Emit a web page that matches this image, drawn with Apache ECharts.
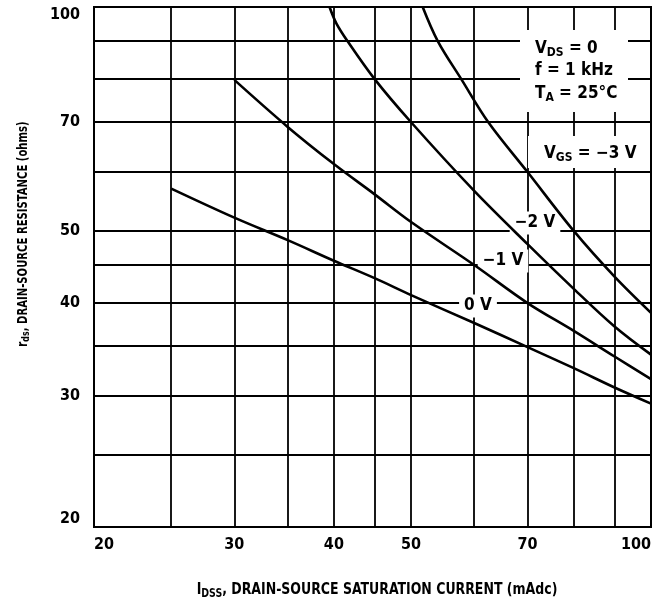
<!DOCTYPE html>
<html>
<head>
<meta charset="utf-8">
<script src="https://cdn.jsdelivr.net/npm/echarts@6/dist/echarts.min.js"></script>
<style>
  html, body { margin: 0; padding: 0; background: #fff; }
  #chart { width: 665px; height: 604px; }
</style>
</head>
<body>
<div id="chart"></div>
<script>
// ---- data ----
const xTickLabels = [20, 30, 40, 50, 70, 100];
const yTickLabels = [20, 30, 40, 50, 70, 100];
const xGridValues = [25, 30, 35, 40, 45, 50, 60, 70, 80, 90];
const yGridValues = [25, 30, 35, 40, 45, 50, 60, 70, 80, 90];

// V_GS = 0 V
const idss0V = [25, 30, 35, 40, 45, 50, 60, 70, 80, 90, 100];
const rds0V  = [57.0, 52.1, 48.6, 45.6, 43.2, 41.0, 37.6, 34.9, 32.7, 30.8, 29.3];
// V_GS = -1 V
const idssM1V = [30, 35, 40, 45, 50, 60, 70, 80, 90, 100];
const rdsM1V  = [79.8, 69.0, 61.5, 56.0, 51.4, 45.0, 40.0, 36.7, 33.9, 31.6];
// V_GS = -2 V
const idssM2V = [39.5, 40.3, 41.6, 45, 50, 60, 70, 80, 90, 100];
const rdsM2V  = [100, 95, 90, 80, 70, 56.6, 48.0, 41.8, 37.2, 34.1];
// V_GS = -3 V
const idssM3V = [51.7, 54, 57.8, 62.5, 70, 80, 90, 100];
const rdsM3V  = [100, 90, 80, 70, 60, 50, 43.4, 38.8];

const FONT = '"Liberation Sans Narrow", "DejaVu Sans Condensed", "Arial Narrow", sans-serif';

function zip(xs, ys) { return xs.map((x, i) => [x, ys[i]]); }

function curve(name, xs, ys) {
  return {
    name: name, type: 'line', smooth: 0.35, symbol: 'none', z: 3,
    data: zip(xs, ys),
    lineStyle: { color: '#000', width: 2.6 },
    silent: true, animation: false
  };
}

const gridLineSeries = {
  name: 'grid', type: 'line', data: [], z: 1, silent: true, animation: false,
  markLine: {
    z: 1, silent: true, animation: false, symbol: ['none', 'none'],
    label: { show: false },
    lineStyle: { color: '#000', width: 1.8, type: 'solid' },
    emphasis: { disabled: true },
    data: xGridValues.map(v => ({ xAxis: v })).concat(yGridValues.map(v => ({ yAxis: v })))
  }
};

const chart = echarts.init(document.getElementById('chart'), null, { renderer: 'canvas' });

const labelStyle = { fill: '#000', fontFamily: FONT, fontWeight: 'bold', fontSize: 17 };

function boxText(text, x, y) {
  return {
    type: 'text', x: x, y: y, z: 2, silent: true,
    style: Object.assign({
      text: text, align: 'center', verticalAlign: 'middle',
      backgroundColor: '#fff', padding: [3, 5, 3, 5]
    }, labelStyle)
  };
}

const subRich = {
  s: { fontFamily: FONT, fontWeight: 'bold', fontSize: 12, padding: [7, 0, 0, 0], fill: '#000' }
};

const option = {
  backgroundColor: '#fff',
  animation: false,
  grid: {
    left: 94, right: 14, top: 7, bottom: 77,
    show: true, borderColor: '#000', borderWidth: 2, backgroundColor: 'transparent'
  },
  xAxis: {
    type: 'log', logBase: 10, min: 20, max: 100,
    axisLine: { show: true, lineStyle: { color: '#000', width: 2 } },
    axisTick: { show: false },
    splitLine: { show: false },
    axisLabel: {
      customValues: xTickLabels,
      color: '#000', fontFamily: FONT, fontWeight: 'bold', fontSize: 16, margin: 10,
      alignMinLabel: 'left', alignMaxLabel: 'right',
      formatter: v => String(Math.round(v))
    }
  },
  yAxis: {
    type: 'log', logBase: 10, min: 20, max: 100,
    axisLine: { show: true, lineStyle: { color: '#000', width: 2 } },
    axisTick: { show: false },
    splitLine: { show: false },
    axisLabel: {
      customValues: yTickLabels,
      color: '#000', fontFamily: FONT, fontWeight: 'bold', fontSize: 16, margin: 14,
      verticalAlignMinLabel: 'bottom', verticalAlignMaxLabel: 'top',
      formatter: v => String(Math.round(v))
    }
  },
  series: [
    gridLineSeries,
    curve('0 V', idss0V, rds0V),
    curve('-1 V', idssM1V, rdsM1V),
    curve('-2 V', idssM2V, rdsM2V),
    curve('-3 V', idssM3V, rdsM3V)
  ],
  graphic: [
    // condition box
    { type: 'rect', z: 2, silent: true, shape: { x: 520, y: 30, width: 108, height: 82 }, style: { fill: '#fff' } },
    { type: 'text', z: 4, x: 535, y: 49, silent: true,
      style: Object.assign({ text: 'V{s|DS} = 0', align: 'left', verticalAlign: 'middle', rich: subRich }, labelStyle) },
    { type: 'text', z: 4, x: 535, y: 71, silent: true,
      style: Object.assign({ text: 'f = 1 kHz', align: 'left', verticalAlign: 'middle' }, labelStyle) },
    { type: 'text', z: 4, x: 535, y: 94, silent: true,
      style: Object.assign({ text: 'T{s|A} = 25°C', align: 'left', verticalAlign: 'middle', rich: subRich }, labelStyle) },
    // V_GS label
    { type: 'rect', z: 2, silent: true, shape: { x: 528, y: 136, width: 117, height: 32 }, style: { fill: '#fff' } },
    { type: 'text', z: 4, x: 544, y: 154, silent: true,
      style: Object.assign({ text: 'V{s|GS} = −3 V', align: 'left', verticalAlign: 'middle', rich: subRich }, labelStyle) },
    boxText('−2 V', 535, 223),
    boxText('−1 V', 503, 261),
    boxText('0 V', 478, 306),
    // axis titles
    { type: 'text', z: 4, x: 377, y: 590, scaleX: 0.87, silent: true,
      style: { text: 'I{s|DSS}, DRAIN-SOURCE SATURATION CURRENT (mAdc)', align: 'center', verticalAlign: 'middle',
               fill: '#000', fontFamily: FONT, fontWeight: 'bold', fontSize: 16,
               rich: { s: { fontFamily: FONT, fontWeight: 'bold', fontSize: 12, padding: [7, 0, 0, 0], fill: '#000' } } } },
    { type: 'text', z: 4, x: 23, y: 234, rotation: Math.PI / 2, scaleX: 0.8, silent: true,
      style: { text: 'r{s|ds}, DRAIN-SOURCE RESISTANCE (ohms)', align: 'center', verticalAlign: 'middle',
               fill: '#000', fontFamily: FONT, fontWeight: 'bold', fontSize: 14,
               rich: { s: { fontFamily: FONT, fontWeight: 'bold', fontSize: 11, padding: [6, 0, 0, 0], fill: '#000' } } } }
  ]
};

chart.setOption(option);
</script>
</body>
</html>
